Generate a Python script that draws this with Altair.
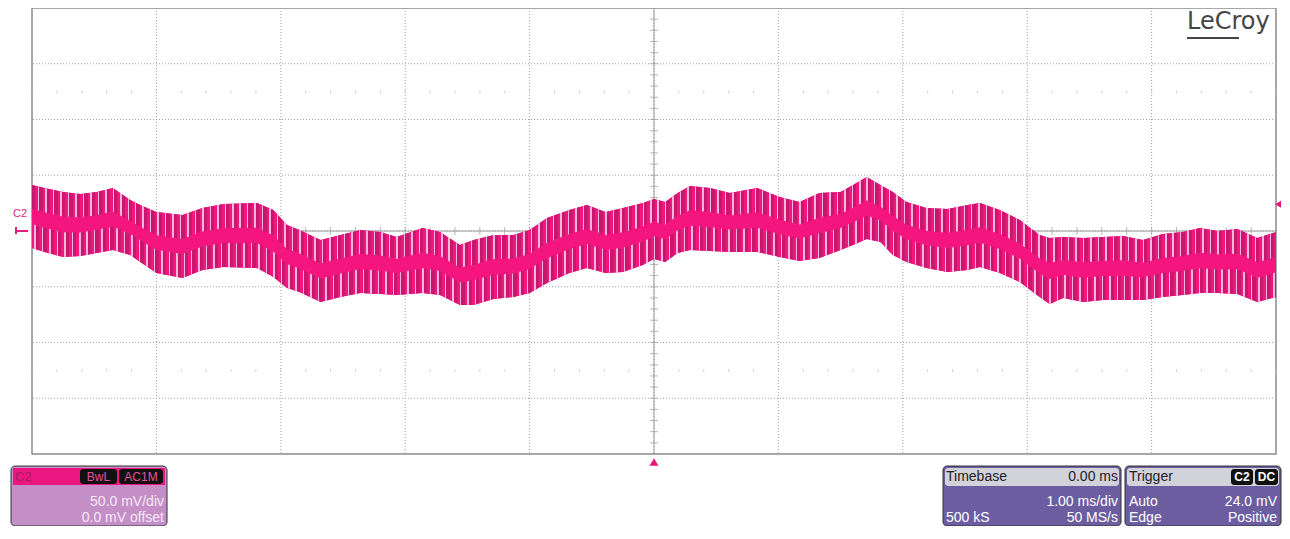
import math
import altair as alt
import pandas as pd

# ---- data (time in ms, voltage in mV) ----
T = [-5.00, -4.90, -4.75, -4.61, -4.48, -4.35, -4.21, -4.13, -4.00, -3.79, -3.63, -3.46,
     -3.19, -3.06, -2.95, -2.85, -2.68, -2.52, -2.36, -2.20, -2.07, -1.86, -1.72, -1.56,
     -1.45, -1.29, -1.13, -1.00, -0.86, -0.68, -0.54, -0.39, -0.25, -0.09, 0.00, 0.09,
     0.19, 0.29, 0.45, 0.61, 0.83, 1.01, 1.17, 1.33, 1.50, 1.60, 1.71, 1.82, 1.92, 2.03,
     2.19, 2.36, 2.52, 2.62, 2.78, 2.94, 3.10, 3.18, 3.29, 3.45, 3.61, 3.77, 3.93, 4.09,
     4.25, 4.39, 4.53, 4.69, 4.85, 5.00]
UPPER = [41.3, 38.6, 35.0, 33.2, 35.0, 38.6, 27.8, 23.3, 17.0, 14.4, 20.6, 24.2,
         25.1, 18.8, 5.4, 0.9, -8.1, -3.6, 0.9, -0.9, -5.4, 2.7, -0.9, -12.6,
         -8.1, -3.6, -3.6, 0.9, 11.7, 18.8, 23.3, 17.0, 20.6, 25.1, 28.7, 26.0,
         34.1, 40.4, 38.6, 34.1, 38.6, 30.5, 26.0, 34.1, 35.0, 41.3, 48.4, 41.3, 35.0, 26.0,
         20.6, 19.7, 23.3, 25.1, 18.8, 9.9, -3.6, -6.3, -5.4, -6.3, -5.4, -4.5, -8.1, -2.7,
         -0.9, 2.7, 0.0, 1.8, -6.3, -0.9]
LOWER = [-15.2, -18.8, -23.3, -22.4, -19.7, -17.0, -21.5, -27.8, -37.7, -42.2, -35.0, -32.3,
         -33.2, -41.3, -51.1, -54.7, -63.7, -59.2, -55.6, -56.5, -57.4, -55.6, -57.4, -66.4,
         -66.4, -61.0, -59.2, -55.6, -46.6, -37.7, -33.2, -37.7, -36.8, -30.5, -25.1, -27.8,
         -19.7, -17.0, -17.9, -18.8, -18.8, -23.3, -26.9, -24.2, -17.0, -12.6, -7.2, -9.9, -21.5, -27.8,
         -33.2, -36.8, -35.0, -32.3, -37.7, -45.7, -59.2, -65.5, -60.1, -63.7, -61.9, -61.9, -61.9, -59.2,
         -57.4, -55.6, -55.6, -56.5, -63.7, -59.2]

RIPPLE_PERIOD_MS = 0.06          # ripple texture period seen on the trace
TRIGGER_LEVEL_MV = 24.0
X_DIVS = [-5, -4, -3, -2, -1, 0, 1, 2, 3, 4, 5]
Y_DIVS = [-200, -150, -100, -50, 0, 50, 100, 150, 200]
MINOR_T = [round(-5 + 0.2 * i, 2) for i in range(51)]
MINOR_V = [-200 + 10 * i for i in range(41)]
DOT_ROWS = [125, -125]

FONT = "Liberation Sans"
HOT = "#f5157f"
DARK = "#c9166f"
LIGHT = "#f8b6db"

x_scale = alt.Scale(domain=[-5, 5], nice=False, zero=False)
y_scale = alt.Scale(domain=[-200, 200], nice=False, zero=False)


def stripes(pattern, phase):
    per = RIPPLE_PERIOD_MS / 10.0
    stops = []
    n = int(math.ceil(1 / per)) + 2
    start = -phase * per
    for i in range(n):
        o = start + i * per
        for col, frac in pattern:
            a, b = o, o + frac * per
            a2, b2 = max(0.0, min(1.0, a)), max(0.0, min(1.0, b))
            if b2 > a2:
                stops.append({"offset": round(a2, 5), "color": col})
                stops.append({"offset": round(b2, 5), "color": col})
            o = b
    return {"gradient": "linear", "x1": 0, "y1": 0, "x2": 1, "y2": 0, "stops": stops}


df = pd.DataFrame({"t": T, "up": UPPER, "lo": LOWER})
X = alt.X("t:Q", scale=x_scale, axis=None)
Y = alt.Y("v:Q", scale=y_scale, axis=None)

EDGE = 0.38
band = alt.Chart(df).mark_area(color=HOT).encode(
    x=X, y=alt.Y("up:Q", scale=y_scale, axis=None), y2="lo:Q")
upper_edge = alt.Chart(df).transform_calculate(
    e=f"datum.up - {EDGE}*(datum.up - datum.lo)"
).mark_area(color=stripes([(DARK, 0.45), (HOT, 0.35), (LIGHT, 0.2)], 0.0)).encode(
    x=X, y=alt.Y("up:Q", scale=y_scale, axis=None), y2="e:Q")
lower_edge = alt.Chart(df).transform_calculate(
    e=f"datum.lo + {EDGE}*(datum.up - datum.lo)"
).mark_area(color=stripes([(DARK, 0.45), (HOT, 0.35), (LIGHT, 0.2)], 0.5)).encode(
    x=X, y=alt.Y("e:Q", scale=y_scale, axis=None), y2="lo:Q")

GRID = "#a3a3a3"
grid_x = alt.Chart(pd.DataFrame({"t": X_DIVS})).mark_rule(
    color=GRID, strokeDash=[1, 2], strokeWidth=1).encode(x=X)
grid_y = alt.Chart(pd.DataFrame({"v": Y_DIVS})).mark_rule(
    color=GRID, strokeDash=[1, 2], strokeWidth=1).encode(y=Y)
center_x = alt.Chart(pd.DataFrame({"t": [0]})).mark_rule(color="#9a9a9a", strokeWidth=1).encode(x=X)
center_y = alt.Chart(pd.DataFrame({"v": [0]})).mark_rule(color="#9a9a9a", strokeWidth=1).encode(y=Y)
ticks_x = alt.Chart(pd.DataFrame({"t": MINOR_T, "v": [0] * len(MINOR_T)})).mark_tick(
    orient="vertical", size=8, thickness=1, color="#9a9a9a").encode(x=X, y=Y)
ticks_y = alt.Chart(pd.DataFrame({"v": MINOR_V, "t": [0] * len(MINOR_V)})).mark_tick(
    orient="horizontal", size=8, thickness=1, color="#9a9a9a").encode(x=X, y=Y)
dots = alt.Chart(pd.DataFrame({"t": [t for t in MINOR_T for _ in DOT_ROWS],
                               "v": [v for _ in MINOR_T for v in DOT_ROWS]})).mark_tick(
    orient="vertical", size=3, thickness=1, color="#c0c0c0").encode(x=X, y=Y)

one = pd.DataFrame({"a": [0]})


def txt(s, x, y, size=13, color="#ffffff", align="left", weight="normal"):
    return alt.Chart(one).mark_text(text=s, fontSize=size, color=color, align=align,
                                    baseline="middle", font=FONT, fontWeight=weight).encode(
        x=alt.value(x), y=alt.value(y))


def box(x, x2, y, y2, fill, r=0, stroke=None, sw=1):
    kw = dict(fill=fill, cornerRadius=r)
    if stroke:
        kw.update(stroke=stroke, strokeWidth=sw)
    return alt.Chart(one).mark_rect(**kw).encode(
        x=alt.value(x), x2=alt.value(x2), y=alt.value(y), y2=alt.value(y2))


# markers
trig_bottom = alt.Chart(pd.DataFrame({"t": [0]})).mark_point(
    shape="triangle-up", filled=True, size=80, color="#e8157b", opacity=1).encode(
    x=X, y=alt.value(454))
trig_right = alt.Chart(pd.DataFrame({"v": [TRIGGER_LEVEL_MV]})).mark_point(
    shape="triangle-left", filled=True, size=50, color="#e8157b", opacity=1).encode(
    x=alt.value(1246), y=Y)
c2_label = txt("C2", -12, 206, size=11, color="#e0207f", align="center")
c2_mark = alt.Chart(pd.DataFrame({"v": [0]})).mark_rule(color="#e0207f", strokeWidth=2).encode(
    x=alt.value(-17), x2=alt.value(-4), y=Y)
c2_mark2 = alt.Chart(one).mark_rule(color="#e0207f", strokeWidth=2).encode(
    x=alt.value(-16), y=alt.value(219), y2=alt.value(226))

logo = alt.Chart(one).mark_text(text="LeCroy", fontSize=24, color="#454545", align="left",
                                baseline="alphabetic", font="DejaVu Sans").encode(
    x=alt.value(1155), y=alt.value(21))
logo_line = alt.Chart(one).mark_rule(color="#454545", strokeWidth=2).encode(
    x=alt.value(1155), x2=alt.value(1207), y=alt.value(30))

# info panels (pixel layout)
P_TOP, P_BOT = 458, 518
H_TOP, H_BOT, H_MID = 460, 477, 468.5
L1, L2 = 494, 510
panels = [
    box(-21, 135, P_TOP, P_BOT, "#c48fc7", r=4, stroke="#333333"),
    box(-19, 133, H_TOP, H_BOT, "#ec1680"),
    txt("C2", -17, H_MID, color="#a51d69"),
    box(48, 85, H_TOP + 1, H_BOT - 1, "#111111", r=3),
    txt("BwL", 66.5, H_MID, size=12, color="#e8509a", align="center"),
    box(87, 131, H_TOP + 1, H_BOT - 1, "#111111", r=3),
    txt("AC1M", 109, H_MID, size=12, color="#e8509a", align="center"),
    txt("50.0 mV/div", 132, L1, size=14, color="#f6e8f6", align="right"),
    txt("0.0 mV offset", 132, L2, size=14, color="#f6e8f6", align="right"),

    box(911, 1089, P_TOP, P_BOT, "#6b5d9f", r=4, stroke="#333333"),
    box(913, 1087, H_TOP, H_BOT + 1, "#d2d2db", r=3),
    txt("Timebase", 914, H_MID, size=14, color="#222222"),
    txt("0.00 ms", 1086, H_MID, size=14, color="#222222", align="right"),
    txt("1.00 ms/div", 1086, L1, size=14, align="right"),
    txt("500 kS", 914, L2, size=14),
    txt("50 MS/s", 1086, L2, size=14, align="right"),

    box(1093, 1249, P_TOP, P_BOT, "#6b5d9f", r=4, stroke="#333333"),
    box(1095, 1247, H_TOP, H_BOT + 1, "#d2d2db", r=3),
    txt("Trigger", 1097, H_MID, size=14, color="#222222"),
    box(1199, 1221, H_TOP + 1, H_BOT, "#111111", r=3),
    txt("C2", 1210, H_MID, size=12, align="center", weight="bold"),
    box(1223, 1246, H_TOP + 1, H_BOT, "#111111", r=3),
    txt("DC", 1234.5, H_MID, size=12, align="center", weight="bold"),
    txt("Auto", 1097, L1, size=14),
    txt("24.0 mV", 1245, L1, size=14, align="right"),
    txt("Edge", 1097, L2, size=14),
    txt("Positive", 1245, L2, size=14, align="right"),
]

chart = alt.layer(
    grid_x, grid_y, dots, center_x, center_y, ticks_x, ticks_y,
    band, upper_edge, lower_edge,
    logo, logo_line, trig_bottom, trig_right, c2_label, c2_mark, c2_mark2,
    *panels
).properties(
    width=1244, height=446,
    padding={"left": 24, "top": 0, "right": 6, "bottom": 72},
    autosize=alt.AutoSizeParams(type="none"),
    background="white",
).configure_view(stroke="#8c8c8c", strokeWidth=1.5)

chart.save("out.html", embed_options={"renderer": "svg", "actions": False})
